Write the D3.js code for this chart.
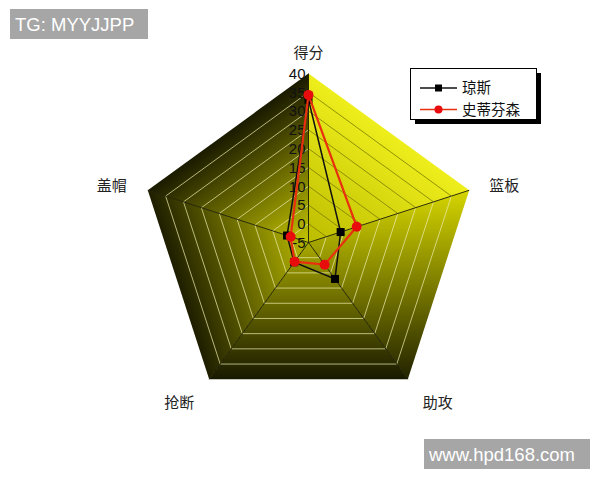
<!DOCTYPE html>
<html>
<head>
<meta charset="utf-8">
<script src="https://cdn.jsdelivr.net/npm/d3@7"></script>
<style>
  body { margin: 0; background: #fff; }
  svg { display: block; }
</style>
</head>
<body>
<svg id="chart"></svg>
<script>
// axes, clockwise from the top
const categories = ['得分', '篮板', '助攻', '抢断', '盖帽'];
const seriesNames = ['琼斯', '史蒂芬森'];
const jonesValues = [33, 4, 7, 1.5, 1];
const stephensonValues = [34.3, 8.5, 2.3, 1.3, 0];
const tickValues = [-5, 0, 5, 10, 15, 20, 25, 30, 35, 40];

class RadarChart {

  constructor(_config) {
    this.config = {
      parentElement: _config.parentElement,
      containerWidth: 600,
      containerHeight: 480,
      cx: 308.5,
      cy: 242.5,
      radius: 169
    }
    this.series = [
      {name: seriesNames[0], values: jonesValues, color: '#111', marker: 'square'},
      {name: seriesNames[1], values: stephensonValues, color: '#e8300e', marker: 'circle'}
    ];
    this.initVis();
  }

  initVis() {
    let vis = this;
    let c = vis.config;

    vis.rScale = d3.scaleLinear()
        .domain([tickValues[0], tickValues[tickValues.length - 1]])
        .range([0, c.radius]);

    vis.svg = d3.select(c.parentElement)
        .attr('width', c.containerWidth)
        .attr('height', c.containerHeight);

    vis.defs = vis.svg.append('defs');
    vis.chart = vis.svg.append('g');

    vis.n = categories.length;
    vis.angles = categories.map((d, i) => 2 * Math.PI * i / vis.n);

    // sector gradients: [x1,y1,x2,y2, colour from, colour to]
    let outer = vis.angles.map(a => vis.point(a, c.radius));
    let mid = i => {
      let p = outer[i], q = outer[(i + 1) % vis.n];
      return {x: (p.x + q.x) / 2, y: (p.y + q.y) / 2};
    };
    let grads = [
      [c.cx, c.cy, mid(0).x, mid(0).y, '#bcbc00', '#eeee1c'],
      [c.cx, outer[1].y, c.cx, outer[2].y, '#d6d600', '#222200'],
      [c.cx, c.cy - 10, c.cx, outer[2].y, '#b4b400', '#181800'],
      [mid(3).x, mid(3).y, c.cx, c.cy, '#1e1e00', '#b8b800'],
      [mid(4).x, mid(4).y, c.cx, c.cy, '#1a1a00', '#c4c400']
    ];
    grads.forEach((g, i) => {
      let lg = vis.defs.append('linearGradient')
          .attr('id', 'sec' + i)
          .attr('gradientUnits', 'userSpaceOnUse')
          .attr('x1', g[0]).attr('y1', g[1])
          .attr('x2', g[2]).attr('y2', g[3]);
      lg.append('stop').attr('offset', 0).attr('stop-color', g[4]);
      lg.append('stop').attr('offset', 1).attr('stop-color', g[5]);
    });

    // filled sectors
    vis.chart.selectAll('.sector')
        .data(d3.range(vis.n))
      .join('path')
        .attr('class', 'sector')
        .attr('fill', i => `url(#sec${i})`)
        .attr('d', i => {
          let p = outer[i], q = outer[(i + 1) % vis.n];
          return `M${c.cx},${c.cy}L${p.x},${p.y}L${q.x},${q.y}Z`;
        });

    // grid lines inside each sector
    let gridData = [];
    for (let i = 0; i < vis.n; i++) {
      tickValues.slice(1, -1).forEach(t => gridData.push({sector: i, value: t}));
    }
    vis.chart.selectAll('.grid')
        .data(gridData)
      .join('line')
        .attr('class', 'grid')
        .attr('x1', d => vis.point(vis.angles[d.sector], vis.rScale(d.value)).x)
        .attr('y1', d => vis.point(vis.angles[d.sector], vis.rScale(d.value)).y)
        .attr('x2', d => vis.point(vis.angles[(d.sector + 1) % vis.n], vis.rScale(d.value)).x)
        .attr('y2', d => vis.point(vis.angles[(d.sector + 1) % vis.n], vis.rScale(d.value)).y)
        .attr('stroke', d => d.sector === 0 ? '#7c7c00' : '#eeeeb0')
        .attr('stroke-opacity', d => d.sector === 0 ? 0.8 : 0.7)
        .attr('stroke-width', 1);

    // spokes
    vis.chart.selectAll('.spoke')
        .data(vis.angles)
      .join('line')
        .attr('class', 'spoke')
        .attr('x1', c.cx)
        .attr('y1', c.cy)
        .attr('x2', d => vis.point(d, c.radius).x)
        .attr('y2', d => vis.point(d, c.radius).y)
        .attr('stroke', '#1a1a00')
        .attr('stroke-width', 0.9);

    // tick labels on the top axis
    vis.chart.selectAll('.tick')
        .data(tickValues)
      .join('text')
        .attr('class', 'tick')
        .attr('x', c.cx - 3)
        .attr('y', d => c.cy - vis.rScale(d))
        .attr('dy', '0.36em')
        .attr('text-anchor', 'end')
        .attr('font-family', 'Liberation Sans, Arial, sans-serif')
        .attr('font-size', '15px')
        .attr('fill', '#111')
        .text(d => d);

    // category labels
    let labelOffset = [[0, -21], [35, -5], [30, 24], [-30, 24], [-36, -5]];
    vis.chart.selectAll('.cat')
        .data(categories)
      .join('text')
        .attr('class', 'cat')
        .attr('x', (d, i) => outer[i].x + labelOffset[i][0])
        .attr('y', (d, i) => outer[i].y + labelOffset[i][1])
        .attr('dy', '0.35em')
        .attr('text-anchor', 'middle')
        .attr('font-family', 'Noto Sans CJK SC, sans-serif')
        .attr('font-size', '15px')
        .attr('fill', '#222')
        .text(d => d);

    vis.renderVis();
    vis.renderLegend();
    vis.renderTags();
  }

  renderVis() {
    let vis = this;

    let line = d3.line()
        .x(d => d.x)
        .y(d => d.y)
        .curve(d3.curveLinearClosed);

    let groups = vis.chart.selectAll('.series')
        .data(vis.series)
      .join('g')
        .attr('class', 'series');

    groups.append('path')
        .attr('fill', 'none')
        .attr('stroke', d => d.color)
        .attr('stroke-width', d => d.marker === 'circle' ? 2.2 : 1.5)
        .attr('d', d => line(vis.getPathCoordinates(d.values)));

    groups.each(function(s) {
      let g = d3.select(this);
      let pts = vis.getPathCoordinates(s.values);
      if (s.marker === 'square') {
        g.selectAll('rect')
            .data(pts)
          .join('rect')
            .attr('x', d => d.x - 4)
            .attr('y', d => d.y - 4)
            .attr('width', 8)
            .attr('height', 8)
            .attr('fill', '#000');
      } else {
        g.selectAll('circle')
            .data(pts)
          .join('circle')
            .attr('cx', d => d.x)
            .attr('cy', d => d.y)
            .attr('r', 5)
            .attr('fill', '#e80c0c');
      }
    });
  }

  renderLegend() {
    let vis = this;
    let lg = vis.svg.append('g').attr('transform', 'translate(410,68)');

    lg.append('rect')
        .attr('x', 5).attr('y', 5)
        .attr('width', 126).attr('height', 51)
        .attr('fill', '#000');
    lg.append('rect')
        .attr('x', 0.5).attr('y', 0.5)
        .attr('width', 126).attr('height', 51)
        .attr('fill', '#fff')
        .attr('stroke', '#000');

    let items = lg.selectAll('.item')
        .data(vis.series)
      .join('g')
        .attr('class', 'item')
        .attr('transform', (d, i) => `translate(0,${20 + i * 21.5})`);

    items.append('line')
        .attr('x1', 10).attr('x2', 47)
        .attr('stroke', d => d.color)
        .attr('stroke-width', 1.5);
    items.filter(d => d.marker === 'square').append('rect')
        .attr('x', 25).attr('y', -3.5).attr('width', 7).attr('height', 7)
        .attr('fill', '#000');
    items.filter(d => d.marker === 'circle').append('circle')
        .attr('cx', 28.5).attr('r', 4)
        .attr('fill', '#e80c0c');
    items.append('text')
        .attr('x', 52)
        .attr('dy', '0.35em')
        .attr('font-family', 'Noto Sans CJK SC, sans-serif')
        .attr('font-size', '14.5px')
        .attr('fill', '#111')
        .text(d => d.name);
  }

  renderTags() {
    let vis = this;
    let tags = [
      {text: 'TG: MYYJJPP', x: 10, y: 9, w: 138, h: 30},
      {text: 'www.hpd168.com', x: 424, y: 439, w: 166, h: 30}
    ];
    let g = vis.svg.selectAll('.tag')
        .data(tags)
      .join('g')
        .attr('class', 'tag');
    g.append('rect')
        .attr('x', d => d.x).attr('y', d => d.y)
        .attr('width', d => d.w).attr('height', d => d.h)
        .attr('fill', '#a6a6a6');
    g.append('text')
        .attr('x', d => d.x + 5)
        .attr('y', d => d.y + 22)
        .attr('font-family', 'Liberation Sans, Arial, sans-serif')
        .attr('font-size', '18.5px')
        .attr('fill', '#fff')
        .text(d => d.text);
  }

  // point on an axis at a given pixel radius
  point(angle, r) {
    let c = this.config;
    return {x: c.cx + Math.sin(angle) * r, y: c.cy - Math.cos(angle) * r};
  }

  getPathCoordinates(values) {
    let vis = this;
    return values.map((v, i) => vis.point(vis.angles[i], vis.rScale(v)));
  }
}

new RadarChart({parentElement: '#chart'});
</script>
</body>
</html>
